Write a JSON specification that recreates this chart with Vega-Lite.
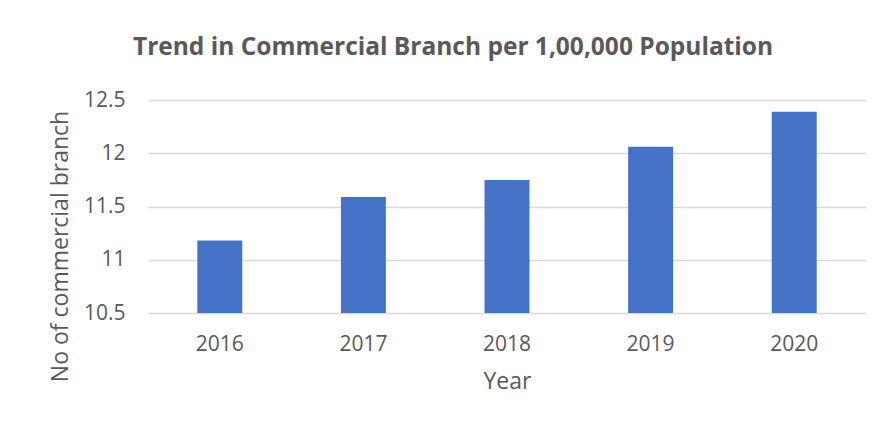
{
  "$schema": "https://vega.github.io/schema/vega-lite/v6.json",
  "width": 718,
  "height": 213,
  "autosize": {"type": "none"},
  "padding": {"left": 148, "top": 100, "right": 17, "bottom": 112},
  "background": "white",
  "title": {
    "text": "Trend in Commercial Branch per 1,00,000 Population",
    "font": "Open Sans",
    "fontSize": 24.5,
    "fontWeight": "bold",
    "color": "#595959",
    "anchor": "middle",
    "frame": "group",
    "dx": -54,
    "offset": 29
  },
  "data": {
    "values": [
      {"Year": "2016", "Branches": 11.18},
      {"Year": "2017", "Branches": 11.59},
      {"Year": "2018", "Branches": 11.75},
      {"Year": "2019", "Branches": 12.06},
      {"Year": "2020", "Branches": 12.39}
    ]
  },
  "mark": {"type": "bar", "color": "#4472C4", "clip": true},
  "encoding": {
    "x": {
      "field": "Year",
      "type": "nominal",
      "scale": {"paddingInner": 0.687, "paddingOuter": 0.3435},
      "axis": {
        "title": "Year",
        "labelAngle": 0,
        "ticks": false,
        "domain": false,
        "labelPadding": 20,
        "titlePadding": 16,
        "labelFont": "Open Sans",
        "labelFontSize": 21,
        "labelColor": "#595959",
        "titleFont": "Open Sans",
        "titleFontSize": 23,
        "titleFontWeight": "normal",
        "titleColor": "#595959"
      }
    },
    "y": {
      "field": "Branches",
      "type": "quantitative",
      "scale": {"domain": [10.5, 12.5], "zero": false, "nice": false},
      "axis": {
        "title": "No of commercial branch",
        "values": [10.5, 11, 11.5, 12, 12.5],
        "format": "~g",
        "ticks": false,
        "domain": false,
        "grid": true,
        "gridColor": "#D9D9D9",
        "gridWidth": 1.3,
        "labelPadding": 23,
        "titlePadding": 11,
        "titleY": 146,
        "labelFont": "Open Sans",
        "labelFontSize": 21,
        "labelColor": "#595959",
        "titleFont": "Open Sans",
        "titleFontSize": 23,
        "titleFontWeight": "normal",
        "titleColor": "#595959"
      }
    }
  },
  "config": {"view": {"stroke": null}}
}
